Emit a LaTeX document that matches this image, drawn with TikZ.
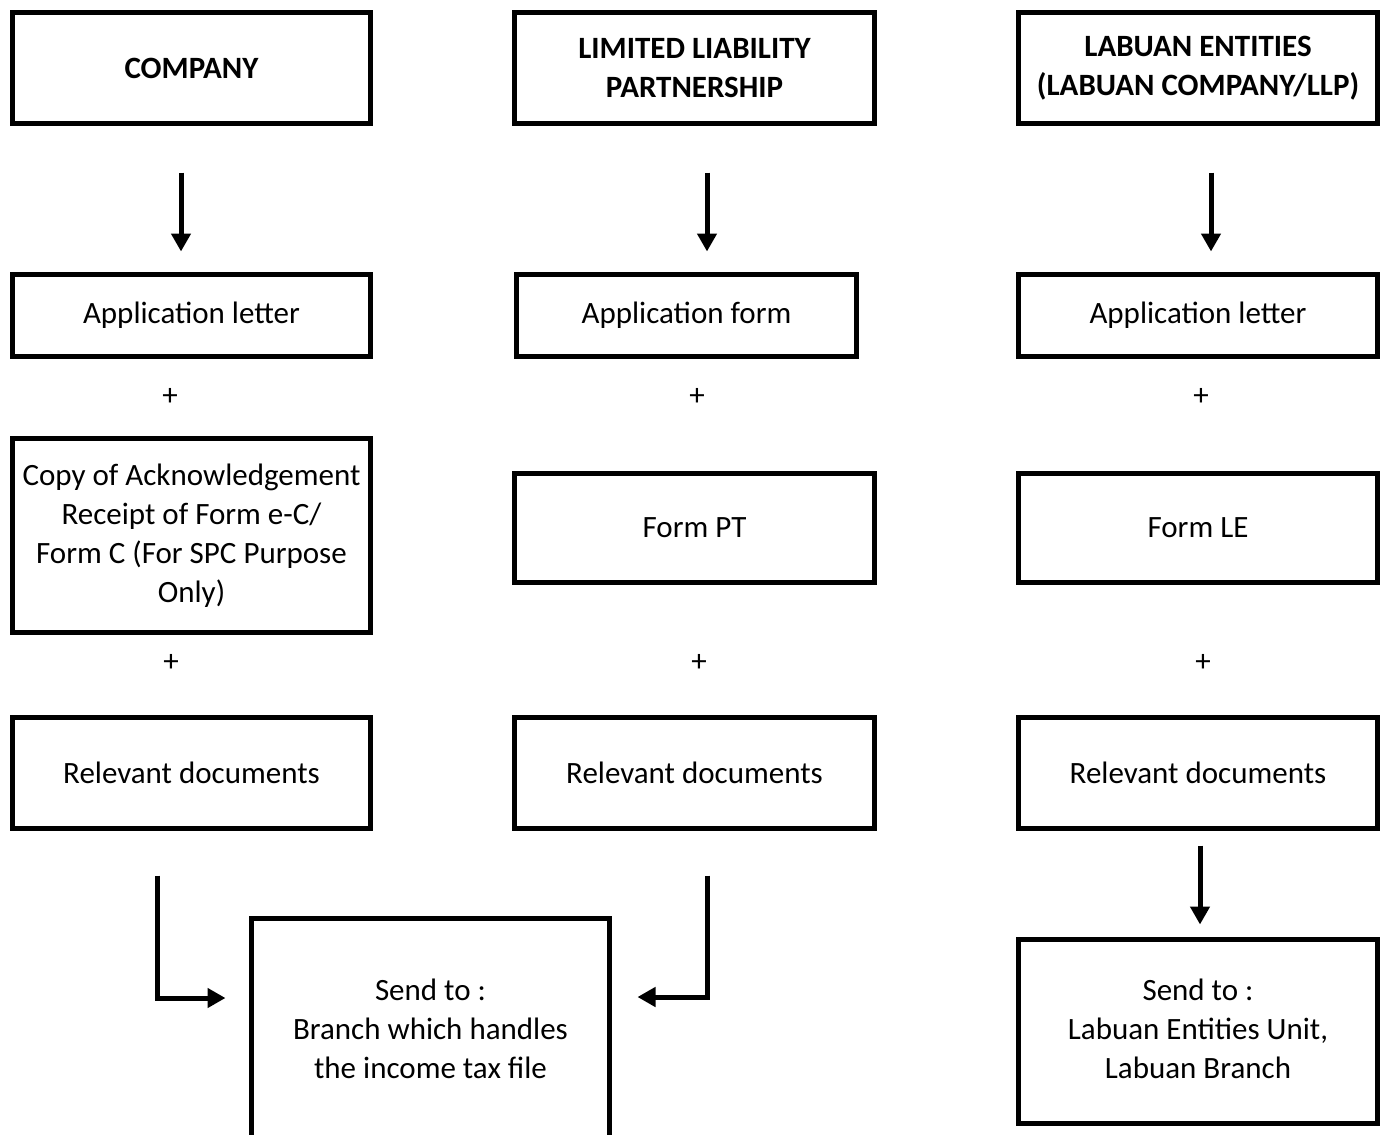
\documentclass[tikz,border=0pt]{standalone}
\usepackage{fontspec}
\setmainfont{Carlito}
\usetikzlibrary{arrows.meta}
\begin{document}
\begin{tikzpicture}[x=1pt,y=-1pt,
  boxst/.style={draw,line width=5pt,inner sep=0pt,align=center,font=\fontsize{31pt}{39pt}\selectfont},
  plusst/.style={inner sep=0pt,font=\fontsize{31pt}{39pt}\selectfont},
  arr/.style={line width=5pt,-{Triangle[width=19pt,length=18pt]}}]
\useasboundingbox (0,0) rectangle (1384,1135);
% row 1
\node[boxst,minimum width=358pt,minimum height=111pt] (comp) at (191.5,68) {\bfseries COMPANY};
\node[boxst,minimum width=360pt,minimum height=111pt] (llp) at (694.5,68) {\bfseries LIMITED LIABILITY\\\bfseries PARTNERSHIP};
\node[boxst,minimum width=359pt,minimum height=111pt] (lab) at (1198,68) {\raisebox{-2pt}{\begin{tabular}{@{}c@{}}\bfseries LABUAN ENTITIES\\\bfseries (LABUAN COMPANY/LLP)\end{tabular}}};
% row 2
\node[boxst,minimum width=358pt,minimum height=82pt] (app1) at (191.5,315.5) {Application letter};
\node[boxst,minimum width=340pt,minimum height=82pt] (app2) at (686.5,315.5) {Application form};
\node[boxst,minimum width=359pt,minimum height=82pt] (app3) at (1198,315.5) {Application letter};
% pluses
\node[plusst] (p1) at (170,397) {+};
\node[plusst] (p2) at (697,397) {+};
\node[plusst] (p3) at (1201,397) {+};
% row 3
\node[boxst,minimum width=358pt,minimum height=194pt] (copy) at (191.5,535.5) {Copy of Acknowledgement\\Receipt of Form e-C/\\Form C (For SPC Purpose\\Only)};
\node[boxst,minimum width=360pt,minimum height=109pt] (pt) at (694.5,528) {Form PT};
\node[boxst,minimum width=359pt,minimum height=109pt] (le) at (1198,528) {Form LE};
% pluses
\node[plusst] (q1) at (171,663) {+};
\node[plusst] (q2) at (699,663) {+};
\node[plusst] (q3) at (1203,663) {+};
% row 4
\node[boxst,minimum width=358pt,minimum height=111pt] (rel1) at (191.5,773) {Relevant documents};
\node[boxst,minimum width=360pt,minimum height=111pt] (rel2) at (694.5,773) {Relevant documents};
\node[boxst,minimum width=359pt,minimum height=111pt] (rel3) at (1198,773) {Relevant documents};
% send boxes
\node[boxst,minimum width=358pt,minimum height=221pt] (send1) at (430.5,1029) {Send to :\\Branch which handles\\the income tax file};
\node[boxst,minimum width=359pt,minimum height=184pt] (send2) at (1198,1031.5) {\raisebox{8pt}{\begin{tabular}{@{}c@{}}Send to :\\Labuan Entities Unit,\\Labuan Branch\end{tabular}}};
% arrows row1 -> row2
\draw[arr] ([xshift=-10.5pt,yshift=-46.5pt]comp.south) -- ([xshift=-10.5pt,yshift=20.5pt]app1.north);
\draw[arr] ([xshift=12.5pt,yshift=-46.5pt]llp.south) -- ([xshift=20.5pt,yshift=20.5pt]app2.north);
\draw[arr] ([xshift=13pt,yshift=-46.5pt]lab.south) -- ([xshift=13pt,yshift=20.5pt]app3.north);
% elbows
\coordinate (l1) at ([xshift=-34.5pt,yshift=-44.5pt]rel1.south);
\coordinate (l2) at ([xshift=12.5pt,yshift=-44.5pt]rel2.south);
\draw[arr] (l1) |- ([xshift=-23.5pt,yshift=31pt]send1.west);
\draw[arr] (l2) |- ([xshift=25.5pt,yshift=32pt]send1.east);
% labuan down
\draw[arr] ([xshift=2pt,yshift=-14.5pt]rel3.south) -- ([xshift=2pt,yshift=12.5pt]send2.north);
\end{tikzpicture}
\end{document}
